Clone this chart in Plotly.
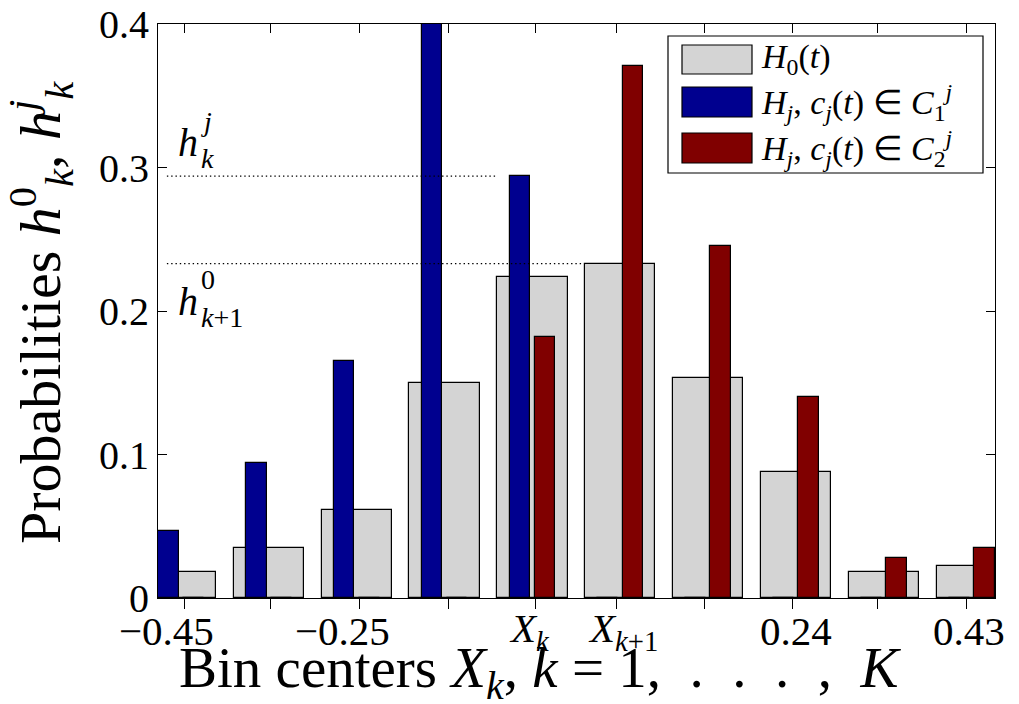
import plotly.graph_objects as go

# ---- data -------------------------------------------------------------
bins = list(range(10))                       # bin index k (uniform spacing)
h0 = [0.018, 0.035, 0.061, 0.150, 0.224, 0.233, 0.153, 0.088, 0.018, 0.022]
hj_c1 = [0.047, 0.094, 0.165, 0.420, 0.294, 0.0, 0.0, 0.0, 0.0, 0.0]
hj_c2 = [0.0, 0.0, 0.0, 0.0, 0.182, 0.371, 0.245, 0.140, 0.028, 0.035]

tick_pos = [0.039, 1.015, 2.032, 3.046, 4.036, 4.951, 5.962, 6.958, 7.930, 8.942]
tick_labels = ["\u22120.45", "", "\u22120.25", "", "<i>X</i><sub><i>k</i></sub>",
               "<i>X</i><sub><i>k</i>+1</sub>", "", "0.24", "", "0.43"]
tick_label_shift = [-18, 0, -17, 0, -6, 7, 0, 4, 0, 2]

y_ticks = [0, 0.1, 0.2, 0.3, 0.4]
y_tick_labels = ["0", "0.1", "0.2", "0.3", "0.4"]

legend_labels = [
    "<i>H</i><sub>0</sub>(<i>t</i>)",
    "<i>H<sub>j</sub></i>, <i>c<sub>j</sub></i>(<i>t</i>) \u2208 <i>C</i><sub>1</sub><sup><i>j</i></sup>",
    "<i>H<sub>j</sub></i>, <i>c<sub>j</sub></i>(<i>t</i>) \u2208 <i>C</i><sub>2</sub><sup><i>j</i></sup>",
]

# ---- style ------------------------------------------------------------
GRAY, BLUE, RED = "#d4d4d4", "#00008f", "#800000"
FONT = "Liberation Serif"
W, H = 1019, 704
PL, PR, PT, PB = 158, 995, 24, 598
SP = "\u2002"   # en space for math-style spacing


def px(x):
    return (x - PL) / (PR - PL)


def py(y):
    return (PB - y) / (PB - PT)


outline = dict(color="black", width=1.2)

fig = go.Figure()
fig.add_trace(go.Bar(x=bins, y=h0, width=0.8, offset=-0.4,
                     marker=dict(color=GRAY, line=outline), showlegend=False))
fig.add_trace(go.Bar(x=bins, y=hj_c1, width=0.235, offset=-0.26,
                     marker=dict(color=BLUE, line=outline), showlegend=False))
fig.add_trace(go.Bar(x=bins, y=hj_c2, width=0.235, offset=0.025,
                     marker=dict(color=RED, line=outline), showlegend=False))

# dotted guide lines at h^j_k and h^0_{k+1}
k = 4
fig.add_trace(go.Scatter(x=[-0.16, k - 0.4], y=[hj_c1[k]] * 2, mode="lines",
                         line=dict(color="black", width=1.3, dash="1.4px,2.9px"),
                         showlegend=False, hoverinfo="skip"))
fig.add_trace(go.Scatter(x=[-0.16, k + 1 - 0.4], y=[h0[k + 1]] * 2, mode="lines",
                         line=dict(color="black", width=1.3, dash="1.4px,2.9px"),
                         showlegend=False, hoverinfo="skip"))
# carrier for the top tick axis
fig.add_trace(go.Scatter(x=[None], y=[None], xaxis="x2", showlegend=False,
                         hoverinfo="skip"))

xr = [-0.261, 9.264]
fig.update_layout(
    width=W, height=H,
    margin=dict(l=PL, r=W - PR, t=PT, b=H - PB, autoexpand=False),
    paper_bgcolor="white", plot_bgcolor="white",
    barmode="overlay", bargap=0,
    font=dict(family=FONT, color="black"),
    xaxis=dict(range=xr, tickvals=tick_pos, ticktext=[""] * len(tick_pos),
               ticks="outside", ticklen=10, tickwidth=1.2, tickcolor="black",
               showline=True, linecolor="black", linewidth=1.2, mirror=True,
               showgrid=False, zeroline=False, automargin=False),
    xaxis2=dict(range=xr, overlaying="x", side="top", tickvals=tick_pos,
                showticklabels=False, ticks="inside", ticklen=9, tickwidth=1.2,
                tickcolor="black", showline=False, showgrid=False, zeroline=False,
                automargin=False),
    yaxis=dict(range=[0, 0.4], tickvals=y_ticks, ticktext=y_tick_labels,
               ticks="inside", ticklen=9, tickwidth=1.2, tickcolor="black",
               tickfont=dict(size=40, family=FONT),
               showline=True, linecolor="black", linewidth=1.2, mirror="ticks",
               showgrid=False, zeroline=False, automargin=False),
)

ann = []
# x tick labels
for pos, lab, sh in zip(tick_pos, tick_labels, tick_label_shift):
    if lab:
        ann.append(dict(x=pos, y=py(631), xref="x", yref="paper", text=lab,
                        showarrow=False, xanchor="center", yanchor="middle",
                        xshift=sh, font=dict(size=41)))
# axis titles
ann.append(dict(x=px(540), y=py(672), xref="paper", yref="paper",
                text=f"Bin centers <i>X</i><sub><i>k</i></sub>, <i>k</i> = 1,{SP}.{SP}.{SP}.{SP},{SP}<i>K</i>",
                showarrow=False, xanchor="center", yanchor="middle",
                font=dict(size=57)))
ann.append(dict(x=px(41), y=py(313), xref="paper", yref="paper",
                text="Probabilities <i>h</i><sup>0</sup><sub><i>k</i></sub>, "
                     "<i>h</i><sup><i>j</i></sup><sub><i>k</i></sub>",
                textangle=-90, showarrow=False, xanchor="center", yanchor="middle",
                font=dict(size=58)))
# h^j_k and h^0_{k+1} labels
for (hx, hy, sup, sub) in [(188, 143, "<i>j</i>", "<i>k</i>"),
                           (188, 301, "0", "<i>k</i>+1")]:
    ann.append(dict(x=px(hx), y=py(hy), xref="paper", yref="paper",
                    text="<i>h</i>", showarrow=False, xanchor="center",
                    yanchor="middle", font=dict(size=40)))
    ann.append(dict(x=px(199), y=py(hy - 22), xref="paper", yref="paper",
                    text=sup, showarrow=False, xanchor="left", yanchor="middle",
                    font=dict(size=28)))
    ann.append(dict(x=px(199), y=py(hy + 16), xref="paper", yref="paper",
                    text=sub, showarrow=False, xanchor="left", yanchor="middle",
                    font=dict(size=28)))

# legend box with wide swatches
shapes = [dict(type="rect", xref="paper", yref="paper",
               x0=px(668), x1=px(983), y0=py(173), y1=py(36),
               line=dict(color="black", width=1.2), fillcolor="white")]
for (y0, y1), col, lab in zip([(45, 74), (87, 117), (133, 163)],
                              [GRAY, BLUE, RED], legend_labels):
    shapes.append(dict(type="rect", xref="paper", yref="paper",
                       x0=px(682), x1=px(752), y0=py(y1), y1=py(y0),
                       line=dict(color="black", width=1.2), fillcolor=col))
    ann.append(dict(x=px(759), y=py((y0 + y1) / 2), xref="paper", yref="paper",
                    text=lab, showarrow=False, xanchor="left", yanchor="middle",
                    font=dict(size=34)))

fig.update_layout(annotations=ann, shapes=shapes)
fig.write_html("out.html")
